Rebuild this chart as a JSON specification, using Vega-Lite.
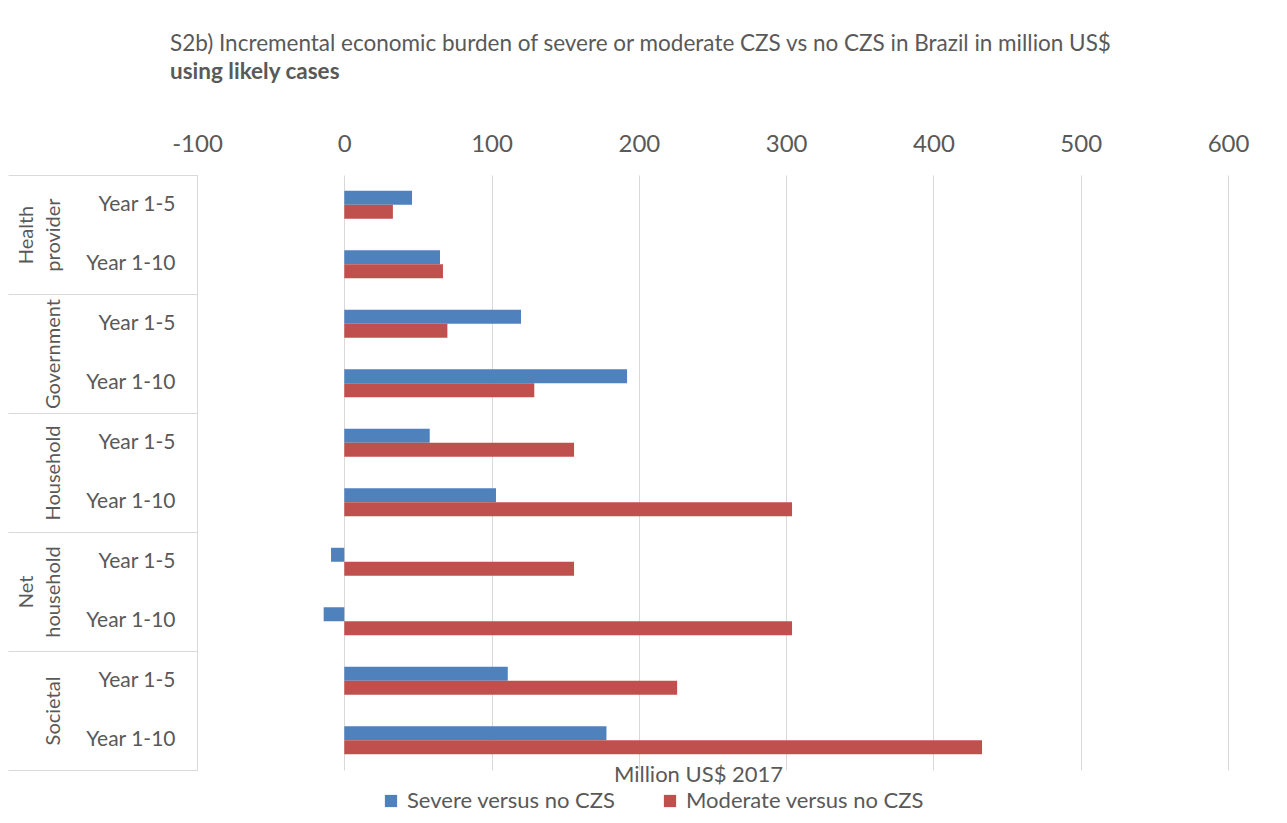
{
  "$schema": "https://vega.github.io/schema/vega-lite/v6.json",
  "width": 1031,
  "height": 595,
  "autosize": {"type": "none"},
  "padding": {"left": 197, "top": 175, "right": 59, "bottom": 53},
  "background": "white",
  "config": {"font": "Lato", "view": {"stroke": null}},
  "title": {
    "text": "S2b) Incremental economic burden of severe or moderate CZS vs no CZS in Brazil in million US$",
    "subtitle": "using likely cases",
    "anchor": "start",
    "frame": "group",
    "dx": -27,
    "offset": 49,
    "fontSize": 22.5,
    "fontWeight": "normal",
    "color": "#595959",
    "subtitleFontSize": 22.5,
    "subtitleColor": "#595959",
    "subtitleFontWeight": "bold",
    "subtitlePadding": 5
  },
  "data": {
    "values": [
      {"group": "Health provider", "row": "Health provider | Year 1-5", "series": "Severe versus no CZS", "value": 46},
      {"group": "Health provider", "row": "Health provider | Year 1-5", "series": "Moderate versus no CZS", "value": 33},
      {"group": "Health provider", "row": "Health provider | Year 1-10", "series": "Severe versus no CZS", "value": 65},
      {"group": "Health provider", "row": "Health provider | Year 1-10", "series": "Moderate versus no CZS", "value": 67},
      {"group": "Government", "row": "Government | Year 1-5", "series": "Severe versus no CZS", "value": 120},
      {"group": "Government", "row": "Government | Year 1-5", "series": "Moderate versus no CZS", "value": 70},
      {"group": "Government", "row": "Government | Year 1-10", "series": "Severe versus no CZS", "value": 192},
      {"group": "Government", "row": "Government | Year 1-10", "series": "Moderate versus no CZS", "value": 129},
      {"group": "Household", "row": "Household | Year 1-5", "series": "Severe versus no CZS", "value": 58},
      {"group": "Household", "row": "Household | Year 1-5", "series": "Moderate versus no CZS", "value": 156},
      {"group": "Household", "row": "Household | Year 1-10", "series": "Severe versus no CZS", "value": 103},
      {"group": "Household", "row": "Household | Year 1-10", "series": "Moderate versus no CZS", "value": 304},
      {"group": "Net household", "row": "Net household | Year 1-5", "series": "Severe versus no CZS", "value": -9},
      {"group": "Net household", "row": "Net household | Year 1-5", "series": "Moderate versus no CZS", "value": 156},
      {"group": "Net household", "row": "Net household | Year 1-10", "series": "Severe versus no CZS", "value": -14},
      {"group": "Net household", "row": "Net household | Year 1-10", "series": "Moderate versus no CZS", "value": 304},
      {"group": "Societal", "row": "Societal | Year 1-5", "series": "Severe versus no CZS", "value": 111},
      {"group": "Societal", "row": "Societal | Year 1-5", "series": "Moderate versus no CZS", "value": 226},
      {"group": "Societal", "row": "Societal | Year 1-10", "series": "Severe versus no CZS", "value": 178},
      {"group": "Societal", "row": "Societal | Year 1-10", "series": "Moderate versus no CZS", "value": 433}
    ]
  },
  "layer": [
    {
      "mark": {"type": "bar"},
      "encoding": {
        "x": {
          "field": "value",
          "type": "quantitative",
          "scale": {"domain": [-100, 600], "nice": false, "zero": false},
          "axis": {
            "orient": "top",
            "values": [-100, 0, 100, 200, 300, 400, 500, 600],
            "labelExpr": "'' + datum.value",
            "labelFlush": false,
            "grid": true,
            "gridColor": "#d9d9d9",
            "gridWidth": 1,
            "domain": false,
            "ticks": false,
            "labelFontSize": 24,
            "labelColor": "#595959",
            "labelPadding": 19,
            "title": null
          }
        },
        "y": {
          "field": "row",
          "type": "nominal",
          "sort": [
            "Health provider | Year 1-5", "Health provider | Year 1-10",
            "Government | Year 1-5", "Government | Year 1-10",
            "Household | Year 1-5", "Household | Year 1-10",
            "Net household | Year 1-5", "Net household | Year 1-10",
            "Societal | Year 1-5", "Societal | Year 1-10"
          ],
          "scale": {"paddingInner": 0.53, "paddingOuter": 0.265},
          "axis": {
            "orient": "left",
            "title": null,
            "domain": false,
            "ticks": false,
            "grid": false,
            "labelExpr": "split(datum.value, ' | ')[1]",
            "labelFontSize": 21,
            "labelColor": "#595959",
            "labelPadding": 22
          }
        },
        "yOffset": {
          "field": "series",
          "type": "nominal",
          "sort": ["Severe versus no CZS", "Moderate versus no CZS"],
          "scale": {"paddingInner": 0, "paddingOuter": 0}
        },
        "color": {
          "field": "series",
          "type": "nominal",
          "sort": ["Severe versus no CZS", "Moderate versus no CZS"],
          "scale": {"domain": ["Severe versus no CZS", "Moderate versus no CZS"], "range": ["#4F81BD", "#C0504D"]},
          "legend": {
            "orient": "none",
            "legendX": 183,
            "legendY": 615,
            "direction": "horizontal",
            "title": null,
            "symbolType": "square",
            "symbolSize": 150,
            "symbolStrokeWidth": 0,
            "labelFontSize": 22,
            "labelLimit": 0,
            "labelColor": "#595959",
            "labelOffset": 5,
            "columnPadding": 43
          }
        }
      }
    },
    {
      "mark": {"type": "point", "opacity": 0},
      "encoding": {
        "x": {
          "field": "value",
          "type": "quantitative",
          "axis": {
            "orient": "bottom",
            "title": "Million US$ 2017",
            "titleX": 501,
            "labels": false,
            "ticks": false,
            "domain": false,
            "grid": false,
            "titleFontSize": 22,
            "titleFontWeight": "normal",
            "titleColor": "#595959",
            "titlePadding": -6
          }
        },
        "y": {
          "field": "group",
          "type": "nominal",
          "sort": ["Health provider", "Government", "Household", "Net household", "Societal"],
          "scale": {"paddingInner": 0, "paddingOuter": 0},
          "axis": {
            "orient": "left",
            "title": null,
            "grid": false,
            "domain": true,
            "domainColor": "#d9d9d9",
            "ticks": true,
            "tickBand": "extent",
            "tickSize": 189,
            "tickColor": "#d9d9d9",
            "labelAngle": -90,
            "labelAlign": "center",
            "labelBaseline": "bottom",
            "labelPadding": -28,
            "labelLineHeight": 27,
            "labelFontSize": 20,
            "labelColor": "#595959",
            "labelExpr": "datum.value == 'Health provider' ? ['Health', 'provider'] : datum.value == 'Net household' ? ['Net', 'household'] : ['', datum.value]"
          }
        }
      }
    }
  ],
  "resolve": {
    "scale": {"y": "independent"},
    "axis": {"x": "independent", "y": "independent"}
  }
}
